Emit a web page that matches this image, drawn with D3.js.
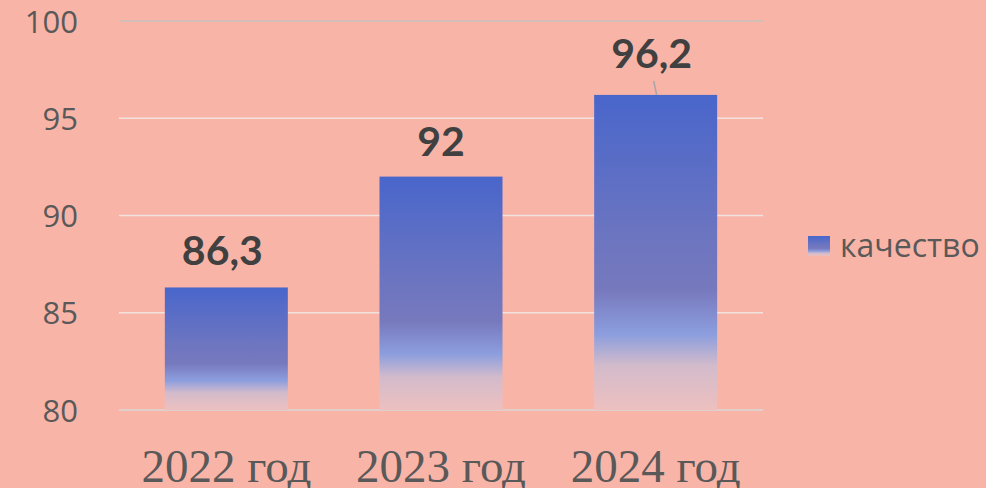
<!DOCTYPE html>
<html><head><meta charset="utf-8">
<script src="https://cdn.jsdelivr.net/npm/d3@7"></script>
<style>
html,body{margin:0;padding:0;background:#F9B4A8;}
svg{display:block;}
</style></head>
<body>
<svg id="c" width="986" height="488"></svg>
<script>
const categories = ["2022 год", "2023 год", "2024 год"];
const values = [86.3, 92, 96.2];
const valueLabels = ["86,3", "92", "96,2"];
const yTicks = [80, 85, 90, 95, 100];
const seriesName = "качество";

const W = 986, H = 488;
const m = {left: 119, right: 223, top: 21, bottom: 78};
const svg = d3.select("#c");
svg.append("rect").attr("width", W).attr("height", H).attr("fill", "#F9B4A8");

const x = d3.scaleBand().domain(categories).range([m.left, W - m.right]).paddingInner(0.427).paddingOuter(0.2135);
const y = d3.scaleLinear().domain([80, 100]).range([H - m.bottom, m.top]);

const defs = svg.append("defs");
const g = defs.append("linearGradient").attr("id", "bg").attr("x1", 0).attr("y1", 0).attr("x2", 0).attr("y2", 1);
[[0, "#4966CB"], [0.45, "#6C75C0"], [0.62, "#7779BD"], [0.76, "#8C9EDE"], [0.86, "#D3BBCB"], [1, "#EDC0BF"]]
  .forEach(([o, c]) => g.append("stop").attr("offset", o).attr("stop-color", c));

// gridlines
svg.append("g").selectAll("line").data(yTicks).join("line")
  .attr("x1", m.left).attr("x2", W - m.right)
  .attr("y1", d => y(d)).attr("y2", d => y(d))
  .attr("stroke", d => d === 80 ? "#D9D9D9" : (d === 100 ? "#C8C0BE" : "#F2E2DE")).attr("stroke-width", 1.5);

// y axis labels
const yAxis = d3.axisLeft(y).tickValues(yTicks).tickSize(0).tickPadding(0);
const ya = svg.append("g").attr("transform", `translate(${m.left - 41},0)`).call(yAxis);
ya.select(".domain").remove();
ya.selectAll("text").attr("fill", "#595959").style("font-family", "'Open Sans', sans-serif")
  .style("font-size", "31px").attr("dy", "0.36em");

// bars
svg.append("g").selectAll("rect").data(values).join("rect")
  .attr("x", (d, i) => x(categories[i])).attr("width", x.bandwidth())
  .attr("y", d => y(d)).attr("height", d => y(80) - y(d))
  .attr("fill", "url(#bg)");

// leader line for last label
const li = 2;
svg.append("line")
  .attr("x1", x(categories[li]) + x.bandwidth() / 2 - 2).attr("y1", y(values[li]) - 14)
  .attr("x2", x(categories[li]) + x.bandwidth() / 2 + 1).attr("y2", y(values[li]))
  .attr("stroke", "#A6A6A6").attr("stroke-width", 1.5);

// value labels
const labelGap = [22, 21, 27];
svg.append("g").selectAll("text").data(values).join("text")
  .attr("x", (d, i) => x(categories[i]) + x.bandwidth() / 2 - (i === 1 ? 0 : 4))
  .attr("y", (d, i) => y(d) - labelGap[i])
  .attr("text-anchor", "middle").attr("fill", "#404040")
  .style("font-family", "Lato, 'Open Sans', sans-serif").style("font-weight", "bold")
  .style("font-size", "41px")
  .text((d, i) => valueLabels[i]);

// x axis labels
const xAxis = d3.axisBottom(x).tickSize(0).tickPadding(0);
const xa = svg.append("g").attr("transform", `translate(0,${H - 6})`).call(xAxis);
xa.select(".domain").remove();
xa.selectAll("text").attr("dy", 0).attr("fill", "#595959")
  .style("font-family", "'Liberation Serif', 'Times New Roman', serif").style("font-size", "47px");

// legend
const lg = svg.append("g").attr("transform", "translate(808,236)");
lg.append("rect").attr("width", 22).attr("height", 20).attr("fill", "url(#bg)");
lg.append("text").attr("x", 32).attr("y", 21).attr("fill", "#595959")
  .style("font-family", "'Open Sans', sans-serif").style("font-size", "32px").text(seriesName);
</script>
</body></html>
